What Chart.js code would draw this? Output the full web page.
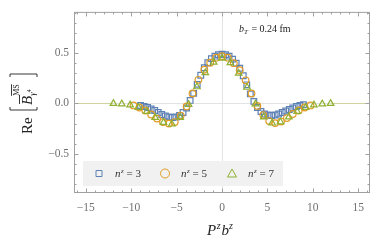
<!DOCTYPE html>
<html>
<head>
<meta charset="utf-8">
<script src="https://cdn.jsdelivr.net/npm/chart.js@4"></script>
<style>
  body { margin: 0; background: #fff; }
  #c { display: block; }
</style>
</head>
<body>
<canvas id="c" width="382" height="243"></canvas>
<script>
// data
var n3X = [-8.97, -8.58, -8.19, -7.80, -7.41, -7.02, -6.63, -6.24, -5.85, -5.46, -5.07, -4.68, -4.29, -3.90, -3.51, -3.12, -2.73, -2.34, -1.95, -1.56, -1.17, -0.78, -0.39, 0,
           0.39, 0.78, 1.17, 1.56, 1.95, 2.34, 2.73, 3.12, 3.51, 3.90, 4.29, 4.68, 5.07, 5.46, 5.85, 6.24, 6.63, 7.02, 7.41, 7.80, 8.19, 8.58, 8.97];
var n3Y = [-0.02, -0.03, -0.04, -0.055, -0.07, -0.09, -0.11, -0.125, -0.135, -0.14, -0.135, -0.12, -0.09, -0.045, 0.03, 0.10, 0.19, 0.28, 0.355, 0.405, 0.445, 0.47, 0.485, 0.49,
           0.485, 0.47, 0.44, 0.40, 0.35, 0.275, 0.185, 0.095, 0.02, -0.04, -0.08, -0.105, -0.115, -0.12, -0.115, -0.105, -0.09, -0.075, -0.06, -0.045, -0.03, -0.02, -0.012];

var n5X = [-9.75, -9.10, -8.45, -7.80, -7.15, -6.50, -5.85, -5.20, -4.55, -3.90, -3.25, -2.60, -1.95, -1.30, -0.65, 0,
           0.65, 1.30, 1.95, 2.60, 3.25, 3.90, 4.55, 5.20, 5.85, 6.50, 7.15, 7.80, 8.45, 9.10, 9.75];
var n5Y = [-0.02, -0.04, -0.07, -0.11, -0.15, -0.185, -0.20, -0.185, -0.12, -0.03, 0.10, 0.235, 0.335, 0.405, 0.455, 0.47,
           0.455, 0.40, 0.33, 0.23, 0.10, -0.025, -0.115, -0.175, -0.195, -0.18, -0.145, -0.105, -0.07, -0.04, -0.02];

var n7X = [-11.96, -11.04, -10.12, -9.20, -8.28, -7.36, -6.44, -5.52, -4.60, -3.68, -2.76, -1.84, -0.92, 0,
           0.92, 1.84, 2.76, 3.68, 4.60, 5.52, 6.44, 7.36, 8.28, 9.20, 10.12, 11.04, 11.96];
var n7Y = [0.0, -0.005, -0.015, -0.04, -0.08, -0.14, -0.19, -0.205, -0.14, -0.01, 0.165, 0.305, 0.41, 0.45,
           0.405, 0.30, 0.16, -0.005, -0.135, -0.195, -0.185, -0.135, -0.08, -0.04, -0.015, -0.005, 0.0];

var xTicks = [-15, -10, -5, 0, 5, 10, 15];
var yTicks = [-0.5, 0, 0.5];
var seriesNames = ['3', '5', '7'];

var X_MIN = -16.3, X_MAX = 16.3, Y_MIN = -0.89, Y_MAX = 0.91;

var blue = '#5e81b5', orange = '#e19c24', green = '#8fb032';
var serif = '"Liberation Serif", "DejaVu Serif", serif';

function pts(xs, ys) {
    return xs.map(function(x, i) { return { x: x, y: ys[i] }; });
}

function minus(s) { return String(s).replace('-', '\u2212'); }

// draws a run of [text, font, dy, extra gap] pieces, returns end x
function runText(ctx, parts, x, y) {
    parts.forEach(function(p) {
        ctx.font = p[1];
        ctx.fillText(p[0], x, y + (p[2] || 0));
        x += ctx.measureText(p[0]).width + (p[3] || 0);
    });
    return x;
}

// frame, inward ticks, legend, labels
var decor = {
    id: 'decor',
    afterDatasetsDraw: function(chart) {
        var ctx = chart.ctx, a = chart.chartArea;
        var xs = chart.scales.x, ys = chart.scales.y;
        ctx.save();

        ctx.strokeStyle = '#a0a0a0';
        ctx.lineWidth = 1;
        ctx.strokeRect(a.left + 0.5, a.top + 0.5, a.right - a.left - 1, a.bottom - a.top - 1);

        ctx.beginPath();
        for (var v = -16; v <= 16; v++) {
            var px = Math.round(xs.getPixelForValue(v)) + 0.5;
            var len = v % 5 === 0 ? 4.5 : 2.5;
            ctx.moveTo(px, a.bottom); ctx.lineTo(px, a.bottom - len);
            ctx.moveTo(px, a.top); ctx.lineTo(px, a.top + len);
        }
        for (var k = -8; k <= 9; k++) {
            var py = Math.round(ys.getPixelForValue(k / 10)) + 0.5;
            var l2 = k % 5 === 0 ? 4.5 : 2.5;
            ctx.moveTo(a.left, py); ctx.lineTo(a.left + l2, py);
            ctx.moveTo(a.right, py); ctx.lineTo(a.right - l2, py);
        }
        ctx.stroke();

        // legend box
        ctx.fillStyle = '#f1f1f1';
        ctx.fillRect(83, 161, 200, 25);
        var marks = [[99, blue, 'sq'], [165, orange, 'ci'], [232, green, 'tr']];
        marks.forEach(function(m, i) {
            ctx.strokeStyle = m[1];
            ctx.lineWidth = 1;
            ctx.beginPath();
            if (m[2] === 'sq') ctx.rect(m[0] - 3, 170.5, 6, 6);
            if (m[2] === 'ci') ctx.arc(m[0], 173.5, 4.5, 0, Math.PI * 2);
            if (m[2] === 'tr') { ctx.moveTo(m[0], 169); ctx.lineTo(m[0] + 4.5, 177); ctx.lineTo(m[0] - 4.5, 177); ctx.closePath(); }
            ctx.stroke();
            ctx.fillStyle = '#333';
            ctx.textBaseline = 'alphabetic';
            runText(ctx, [
                ['n', 'italic 11px ' + serif, 0, 0.5],
                ['z', 'italic 7px ' + serif, -4],
                [' = ' + seriesNames[i], '11px ' + serif]
            ], m[0] + 16, 177);
        });

        // annotation
        ctx.fillStyle = '#222';
        runText(ctx, [
            ['b', 'italic 10px ' + serif],
            ['T', 'italic 7px ' + serif, 2, 1],
            [' = 0.24 fm', '10px ' + serif]
        ], 239, 32);

        // x title
        runText(ctx, [
            ['P', 'italic 15px ' + serif, 0, 0.5],
            ['z', 'italic 10px ' + serif, -6, 1],
            ['b', 'italic 15px ' + serif],
            ['z', 'italic 10px ' + serif, -6]
        ], 207, 235);

        // y title, rotated
        ctx.translate(32, 134);
        ctx.rotate(-Math.PI / 2);
        ctx.fillStyle = '#222';
        ctx.strokeStyle = '#222';
        runText(ctx, [['Re', '15px ' + serif]], 0, 0);
        ctx.lineWidth = 0.9;
        ctx.beginPath();
        ctx.moveTo(27, 5); ctx.lineTo(24, 5); ctx.lineTo(24, -22); ctx.lineTo(27, -22);
        ctx.moveTo(57, 5); ctx.lineTo(60, 5); ctx.lineTo(60, -22); ctx.lineTo(57, -22);
        ctx.stroke();
        ctx.font = 'italic 15px ' + serif;
        ctx.fillText('B', 29, 0);
        var bw = ctx.measureText('B').width;
        ctx.beginPath();
        ctx.moveTo(30, -12.5); ctx.lineTo(29 + bw + 1, -12.5);
        ctx.stroke();
        ctx.font = '8px ' + serif;
        ctx.fillText('MS', 29 + bw, -13);
        var mw = ctx.measureText('MS').width;
        ctx.beginPath();
        ctx.moveTo(29 + bw, -20.5); ctx.lineTo(29 + bw + mw, -20.5);
        ctx.stroke();
        runText(ctx, [
            ['\u03b3', 'italic 9px ' + serif],
            ['4', '6px ' + serif, -4]
        ], 29 + bw, 3);

        ctx.restore();
    }
};

new Chart(document.getElementById('c'), {
    type: 'scatter',
    data: {
        datasets: [{
            label: 'n7',
            data: pts(n7X, n7Y),
            pointStyle: 'triangle',
            pointRadius: 3.8,
            borderColor: green,
            backgroundColor: 'transparent',
            borderWidth: 1.2,
            order: 0
        }, {
            label: 'n5',
            data: pts(n5X, n5Y),
            pointStyle: 'circle',
            pointRadius: 3.3,
            borderColor: orange,
            backgroundColor: 'transparent',
            borderWidth: 1.2,
            order: 1
        }, {
            label: 'n3',
            data: pts(n3X, n3Y),
            pointStyle: 'rect',
            pointRadius: 4,
            borderColor: blue,
            backgroundColor: 'transparent',
            borderWidth: 1.2,
            order: 2
        }, {
            // faint zero line past the last points
            type: 'line',
            label: 'tailL',
            data: [{ x: X_MIN, y: 0 }, { x: n7X[0], y: 0 }],
            borderColor: '#cfd39a',
            borderWidth: 1,
            pointRadius: 0,
            order: 3
        }, {
            type: 'line',
            label: 'tailR',
            data: [{ x: n7X[n7X.length - 1], y: 0 }, { x: X_MAX, y: 0 }],
            borderColor: '#cfd39a',
            borderWidth: 1,
            pointRadius: 0,
            order: 3
        }]
    },
    options: {
        responsive: false,
        animation: false,
        layout: { padding: { top: 10, right: 12, left: 0, bottom: 0 } },
        plugins: { legend: { display: false }, tooltip: { enabled: false } },
        scales: {
            x: {
                type: 'linear',
                min: X_MIN,
                max: X_MAX,
                afterFit: function(s) { s.height = 50; },
                afterBuildTicks: function(s) { s.ticks = xTicks.map(function(v) { return { value: v }; }); },
                grid: {
                    drawTicks: false,
                    color: function(c) { return c.tick && c.tick.value === 0 ? '#e3e3e3' : 'rgba(0,0,0,0)'; }
                },
                border: { display: false },
                ticks: {
                    padding: 8,
                    color: '#707070',
                    font: { family: serif, size: 11.5 },
                    callback: function(v) { return minus(v); }
                }
            },
            y: {
                min: Y_MIN,
                max: Y_MAX,
                afterFit: function(s) { s.width = 74; },
                afterBuildTicks: function(s) { s.ticks = yTicks.map(function(v) { return { value: v }; }); },
                grid: {
                    drawTicks: false,
                    color: function(c) { return c.tick && c.tick.value === 0 ? '#e3e3e3' : 'rgba(0,0,0,0)'; }
                },
                border: { display: false },
                ticks: {
                    padding: 5,
                    color: '#707070',
                    font: { family: serif, size: 11.5 },
                    callback: function(v) { return minus(v.toFixed(1)); }
                }
            }
        }
    },
    plugins: [decor]
});
</script>
</body>
</html>
